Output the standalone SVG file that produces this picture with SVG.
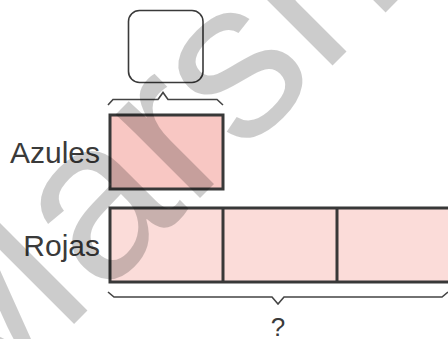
<svg xmlns="http://www.w3.org/2000/svg" width="448" height="339" viewBox="0 0 448 339">
<style>
.lbl{font-family:"Liberation Sans","DejaVu Sans",sans-serif;fill:#3a3a3a;font-size:30px}
.bar{stroke:#383838;stroke-width:3}
.brace{fill:none;stroke:#444;stroke-width:1.6;stroke-linejoin:miter}
.wm{font-family:"Liberation Sans","DejaVu Sans",sans-serif;font-size:225px;fill:#000;fill-opacity:0.2}
</style>
<rect width="448" height="339" fill="#fff"/>
<g id="answer-box">
<rect x="128.5" y="10.5" width="74.5" height="72" rx="11" fill="#fff" stroke="#3a3a3a" stroke-width="1.6"/>
</g>
<g id="azules">
<rect class="bar" x="110" y="115" width="113" height="74" fill="#f8c7c3"/>
<text class="lbl" x="100" y="163" text-anchor="end">Azules</text>
</g>
<g id="rojas">
<rect class="bar" x="110" y="208" width="345" height="74" fill="#fbdcd9"/>
<line class="bar" x1="223" y1="208" x2="223" y2="282"/>
<line class="bar" x1="337" y1="208" x2="337" y2="282"/>
<text class="lbl" x="100" y="256" text-anchor="end">Rojas</text>
</g>
<g id="connectors">
<path class="brace" d="M108,105 L113,99.5 L158,99.5 L163,92.5 L168,99.5 L217,99.5 L223,105"/>
<path class="brace" d="M108,292 L114,297 L272,297 L278,304 L284,297 L442,297 L448,292"/>
</g>
<g id="total">
<text class="lbl" x="278" y="336" text-anchor="middle" style="font-size:26px">?</text>
</g>
<text class="wm" transform="translate(-32,430) rotate(-45)">Marshall</text>
</svg>
